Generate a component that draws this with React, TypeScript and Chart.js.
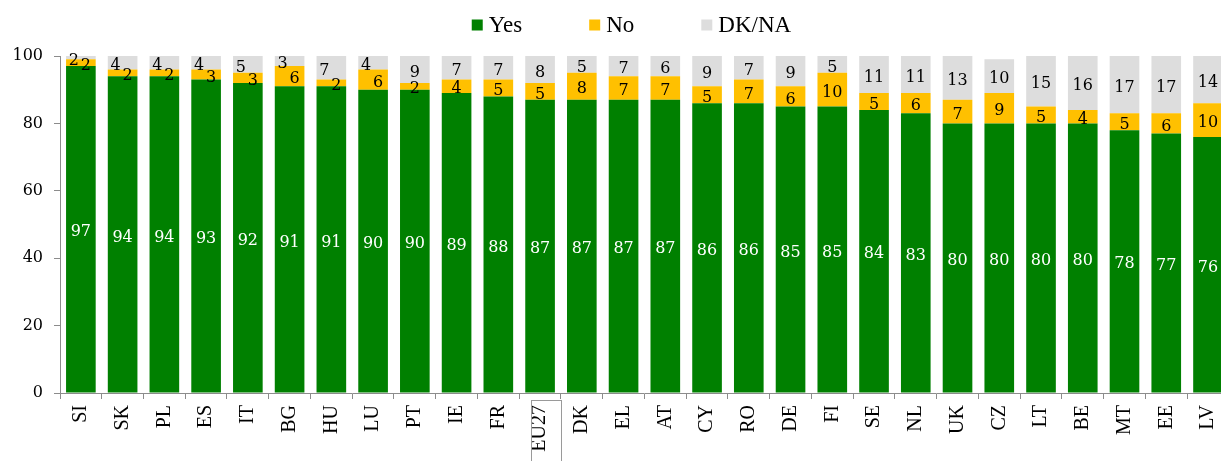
import React, { useEffect, useRef } from "react";
import { Chart, registerables } from "chart.js";

Chart.register(...registerables);

// Survey answers per country (percent)
const countries = [
  "SI", "SK", "PL", "ES", "IT", "BG", "HU", "LU", "PT", "IE", "FR", "EU27", "DK", "EL",
  "AT", "CY", "RO", "DE", "FI", "SE", "NL", "UK", "CZ", "LT", "BE", "MT", "EE", "LV",
];
const yesValues = [97, 94, 94, 93, 92, 91, 91, 90, 90, 89, 88, 87, 87, 87, 87, 86, 86, 85, 85, 84, 83, 80, 80, 80, 80, 78, 77, 76];
const noValues = [2, 2, 2, 3, 3, 6, 2, 6, 2, 4, 5, 5, 8, 7, 7, 5, 7, 6, 10, 5, 6, 7, 9, 5, 4, 5, 6, 10];
const dkValues = [2, 4, 4, 4, 5, 3, 7, 4, 9, 7, 7, 8, 5, 7, 6, 9, 7, 9, 5, 11, 11, 13, 10, 15, 16, 17, 17, 14];

const seriesNames = ["Yes", "No", "DK/NA"];
const seriesColors = ["#008000", "#FFC000", "#DDDDDD"];
const labelColors = ["#FFFFFF", "#000000", "#000000"];
const highlighted = "EU27";

const AXIS_GREY = "#8C8C8C";
const NUM_FONT = "DejaVu Serif";
const TEXT_FONT = "Liberation Serif";

// Writes each segment's value inside its (visible) part of the bar.
const segmentLabels = {
  id: "segmentLabels",
  afterDatasetsDraw(chart: any) {
    const { ctx, chartArea } = chart;
    ctx.save();
    ctx.font = `16px "${NUM_FONT}"`;
    ctx.textAlign = "center";
    ctx.textBaseline = "middle";
    chart.data.datasets.forEach((ds: any, d: number) => {
      const meta = chart.getDatasetMeta(d);
      meta.data.forEach((el: any, i: number) => {
        const top = Math.max(el.y, chartArea.top);
        const bottom = Math.min(el.base, chartArea.bottom);
        // small top segments: pull the two labels apart sideways
        const crowded = noValues[i] + dkValues[i] <= 10;
        let dx = 0;
        if (crowded && d === 1) dx = 5;
        if (crowded && d === 2) dx = -7;
        ctx.fillStyle = labelColors[d];
        ctx.fillText(String(ds.data[i]), el.x + dx, (top + bottom) / 2 + 3);
      });
    });
    ctx.restore();
  },
};

// Legend row above the plot.
const topLegend = {
  id: "topLegend",
  afterDraw(chart: any) {
    const { ctx, chartArea } = chart;
    ctx.save();
    ctx.font = `23px "${TEXT_FONT}"`;
    ctx.textBaseline = "middle";
    const box = 11;
    const gap = 6;
    const spacing = 67;
    const widths = seriesNames.map((n) => ctx.measureText(n).width);
    const total =
      widths.reduce((a, w) => a + box + gap + w, 0) + spacing * (seriesNames.length - 1);
    let x = (chartArea.left + chartArea.right) / 2 - 13 - total / 2;
    const cy = 25;
    seriesNames.forEach((n, k) => {
      ctx.fillStyle = seriesColors[k];
      ctx.fillRect(x, cy - box / 2, box, box);
      ctx.fillStyle = "#000000";
      ctx.fillText(n, x + box + gap, cy + 1);
      x += box + gap + widths[k] + spacing;
    });
    ctx.restore();
  },
};

// Frame around the EU average label.
const highlightBox = {
  id: "highlightBox",
  afterDraw(chart: any) {
    const { ctx, chartArea } = chart;
    const xScale = chart.scales.x;
    const idx = countries.indexOf(highlighted);
    if (idx < 0) return;
    const cx = xScale.getPixelForValue(idx);
    ctx.save();
    ctx.strokeStyle = "#9A9A9A";
    ctx.lineWidth = 1;
    ctx.strokeRect(Math.round(cx - 9) + 0.5, Math.round(chartArea.bottom + 7) + 0.5, 30, 80);
    ctx.restore();
  },
};

export default function App() {
  const canvasRef = useRef<HTMLCanvasElement | null>(null);

  useEffect(() => {
    if (!canvasRef.current) return;
    const chart = new Chart(canvasRef.current, {
      type: "bar",
      data: {
        labels: countries,
        datasets: [yesValues, noValues, dkValues].map((vals, k) => ({
          label: seriesNames[k],
          data: vals,
          backgroundColor: seriesColors[k],
          borderWidth: 0,
          categoryPercentage: 1,
          barPercentage: 0.71,
        })),
      },
      options: {
        responsive: false,
        animation: false,
        layout: { padding: { top: 56, left: 0, right: 0, bottom: 0 } },
        plugins: {
          legend: { display: false },
          tooltip: { enabled: false },
        },
        scales: {
          x: {
            stacked: true,
            afterFit: (scale: any) => {
              scale.height = 68;
            },
            border: { display: true, color: AXIS_GREY, width: 1 },
            grid: {
              offset: true,
              drawOnChartArea: false,
              drawTicks: true,
              tickLength: 6,
              color: AXIS_GREY,
            },
            ticks: {
              minRotation: 90,
              maxRotation: 90,
              autoSkip: false,
              padding: 6,
              color: "#000000",
              font: { family: TEXT_FONT, size: 20 },
            },
          },
          y: {
            stacked: true,
            min: 0,
            max: 100,
            afterFit: (scale: any) => {
              scale.width = 60;
            },
            border: { display: true, color: AXIS_GREY, width: 1 },
            grid: {
              drawOnChartArea: false,
              drawTicks: true,
              tickLength: 6,
              color: AXIS_GREY,
            },
            ticks: {
              stepSize: 20,
              padding: 11,
              color: "#000000",
              font: { family: NUM_FONT, size: 16 },
            },
          },
        },
      },
      plugins: [segmentLabels, topLegend, highlightBox],
    });
    return () => chart.destroy();
  }, []);

  return (
    <div
      style={{
        position: "fixed",
        left: 0,
        top: 0,
        width: 1221,
        height: 461,
        overflow: "hidden",
        background: "#FFFFFF",
      }}
    >
      <canvas ref={canvasRef} width={1238} height={461} style={{ display: "block" }} />
    </div>
  );
}
